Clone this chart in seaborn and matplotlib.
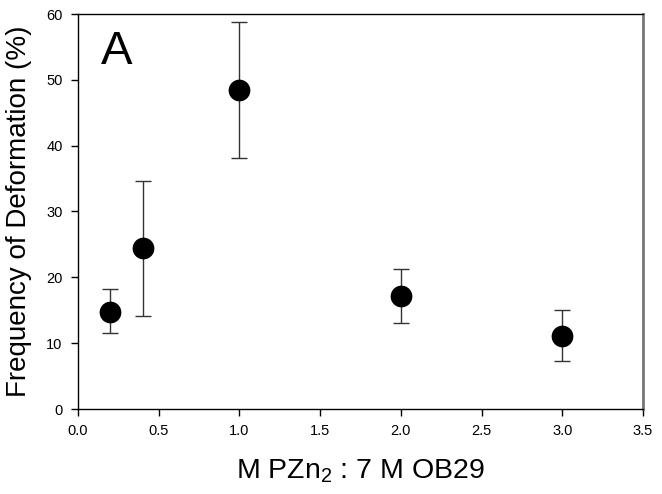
import numpy as np
import pandas as pd
import seaborn as sns
import matplotlib.pyplot as plt

# Data
ratio = [0.2, 0.4, 1.0, 2.0, 3.0]
freq = [14.8, 24.5, 48.5, 17.1, 11.1]
err_low = [11.5, 14.2, 38.2, 13.1, 7.3]
err_high = [18.2, 34.6, 58.8, 21.2, 15.0]

df = pd.DataFrame({'ratio': ratio, 'freq': freq, 'lo': err_low, 'hi': err_high})

sns.set_style('white')
plt.rcParams['font.family'] = ['Liberation Sans', 'DejaVu Sans']
plt.rcParams['mathtext.fontset'] = 'custom'
plt.rcParams['mathtext.rm'] = 'Liberation Sans'
plt.rcParams['mathtext.it'] = 'Liberation Sans'
plt.rcParams['text.color'] = 'black'
plt.rcParams['axes.labelcolor'] = 'black'
plt.rcParams['xtick.color'] = 'black'
plt.rcParams['ytick.color'] = 'black'

fig, ax = plt.subplots(figsize=(6.62, 4.94), dpi=100)
fig.subplots_adjust(left=78/662, right=643/662, top=1-14/494, bottom=1-409/494)

yerr = np.array([df['freq'] - df['lo'], df['hi'] - df['freq']])
ax.errorbar(df['ratio'], df['freq'], yerr=yerr, fmt='none', ecolor='#333333',
            elinewidth=1, capsize=6, capthick=1, zorder=2)
sns.scatterplot(data=df, x='ratio', y='freq', ax=ax, color='black', s=210,
                edgecolor='black', zorder=3)

ax.set_xlim(0, 3.5)
ax.set_ylim(0, 60)
ax.set_xticks(np.arange(0, 3.51, 0.5))
ax.set_yticks(np.arange(0, 61, 10))
ax.set_xticklabels([f'{v:.1f}' for v in np.arange(0, 3.51, 0.5)])

for s in ['left', 'bottom', 'top']:
    ax.spines[s].set_color('black')
    ax.spines[s].set_linewidth(1)
ax.spines['right'].set_color('#777777')
ax.spines['right'].set_linewidth(2)

ax.tick_params(axis='both', which='major', direction='out', length=5, width=1,
               color='black', labelcolor='black', labelsize=10.5, pad=6,
               bottom=True, left=True)

ax.set_xlabel('M PZn$_2$ : 7 M OB29', fontsize=20.5, labelpad=14, color='black')
ax.set_ylabel('Frequency of Deformation (%)', fontsize=20, labelpad=10, color='black')

ax.text(0.04, 0.96, 'A', transform=ax.transAxes, fontsize=34, va='top', ha='left',
        color='black')

plt.savefig('out.png', dpi=100)
